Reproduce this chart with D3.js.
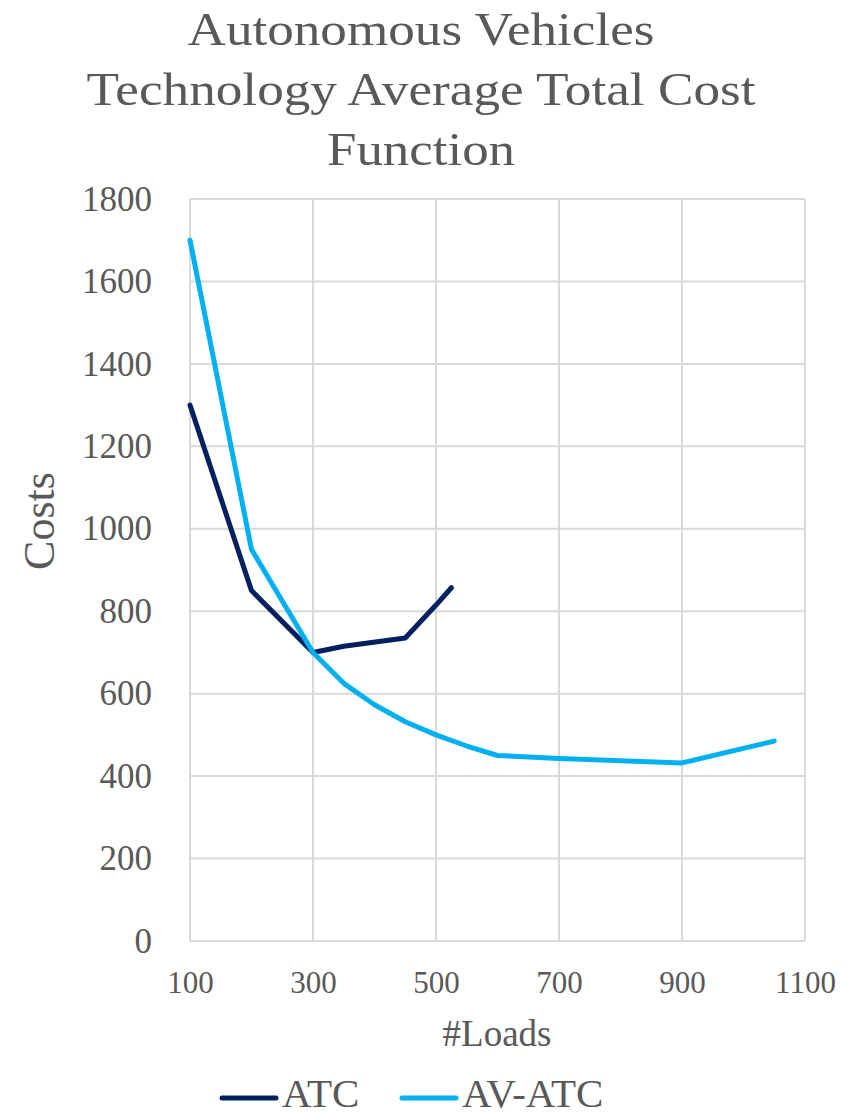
<!DOCTYPE html>
<meta charset="utf-8">
<style>
body { margin: 0; background: #fff; }
text { font-family: "Book Antiqua", "Palatino Linotype", "Liberation Serif", serif; fill: #595959; }
.grid line { stroke: #d9d9d9; stroke-width: 2px; }
.line { fill: none; stroke-width: 5px; stroke-linejoin: round; stroke-linecap: round; }
</style>
<body>
<script src="https://d3js.org/d3.v7.min.js"></script>
<script>
// data
var atcLoads = [100, 200, 300, 350, 450, 500, 525];
var atcCost  = [1300, 850, 700, 715, 735, 815, 857];
var avLoads  = [100, 200, 300, 350, 400, 450, 500, 550, 600, 700, 900, 1050];
var avCost   = [1700, 950, 700, 625, 573, 532, 500, 473, 450, 443, 432, 485];
var xTicks = [100, 300, 500, 700, 900, 1100];
var yTicks = [0, 200, 400, 600, 800, 1000, 1200, 1400, 1600, 1800];
var titleLines = ["Autonomous Vehicles", "Technology Average Total Cost", "Function"];
var seriesNames = ["ATC", "AV-ATC"];
var colors = ["#002060", "#00b0f0"];

var W = 846, H = 1116;
var margin = {top: 199, left: 190, right: 41, bottom: 175};
var width = W - margin.left - margin.right,
    height = H - margin.top - margin.bottom;

var svg = d3.select("body").append("svg")
    .attr("width", W).attr("height", H);

var x = d3.scaleLinear().domain([100, 1100]).range([0, width]);
var y = d3.scaleLinear().domain([0, 1800]).range([height, 0]);

// title (Palatino-like width on a Times fallback)
var titleWidths = [467, 669, 188];
svg.append("g").selectAll("text")
    .data(titleLines).enter().append("text")
    .attr("x", 421).attr("y", function(d, i) { return 45 + i * 60; })
    .attr("text-anchor", "middle")
    .attr("textLength", function(d, i) { return titleWidths[i]; })
    .attr("lengthAdjust", "spacingAndGlyphs")
    .style("font-size", "46px")
    .text(function(d) { return d; });

var g = svg.append("g")
    .attr("transform", "translate(" + margin.left + "," + margin.top + ")");

// gridlines
g.append("g").attr("class", "grid")
    .selectAll("line").data(yTicks).enter().append("line")
    .attr("x1", 0).attr("x2", width)
    .attr("y1", function(d) { return y(d); }).attr("y2", function(d) { return y(d); });
g.append("g").attr("class", "grid")
    .selectAll("line").data(xTicks).enter().append("line")
    .attr("y1", 0).attr("y2", height)
    .attr("x1", function(d) { return x(d); }).attr("x2", function(d) { return x(d); });

// axes (labels only)
var fmt = d3.format("d");
var xAxis = g.append("g")
    .attr("transform", "translate(0," + height + ")")
    .call(d3.axisBottom(x).tickValues(xTicks).tickFormat(fmt).tickSize(0).tickPadding(30));
var yAxis = g.append("g")
    .call(d3.axisLeft(y).tickValues(yTicks).tickFormat(fmt).tickSize(0).tickPadding(38));
[xAxis, yAxis].forEach(function(a) {
  a.select(".domain").remove();
  a.selectAll("text").attr("fill", "#595959")
    .style("font-family", "'Book Antiqua', 'Palatino Linotype', 'Liberation Serif', serif");
});
xAxis.selectAll("text").style("font-size", "31px");
yAxis.selectAll("text").style("font-size", "35px");

// lines
var series = [
  atcLoads.map(function(d, i) { return [d, atcCost[i]]; }),
  avLoads.map(function(d, i) { return [d, avCost[i]]; })
];
var line = d3.line()
    .x(function(d) { return x(d[0]); })
    .y(function(d) { return y(d[1]); });
g.selectAll(".line").data(series).enter().append("path")
    .attr("class", "line")
    .attr("stroke", function(d, i) { return colors[i]; })
    .attr("d", line);

// axis titles
svg.append("text")
    .attr("transform", "translate(54,521) rotate(-90)")
    .attr("text-anchor", "middle")
    .style("font-size", "44px")
    .text("Costs");
svg.append("text")
    .attr("x", 497).attr("y", 1046)
    .attr("text-anchor", "middle")
    .style("font-size", "37px")
    .text("#Loads");

// legend
var legX = [222, 402];
var leg = svg.append("g").selectAll("g")
    .data(seriesNames).enter().append("g")
    .attr("transform", function(d, i) { return "translate(" + legX[i] + ",1098)"; });
leg.append("line")
    .attr("x1", 0).attr("x2", 54).attr("y1", 0).attr("y2", 0)
    .attr("stroke", function(d, i) { return colors[i]; })
    .attr("stroke-width", 5).attr("stroke-linecap", "round");
leg.append("text")
    .attr("x", 60).attr("y", 9)
    .style("font-size", "41px")
    .text(function(d) { return d; });
</script>
</body>
